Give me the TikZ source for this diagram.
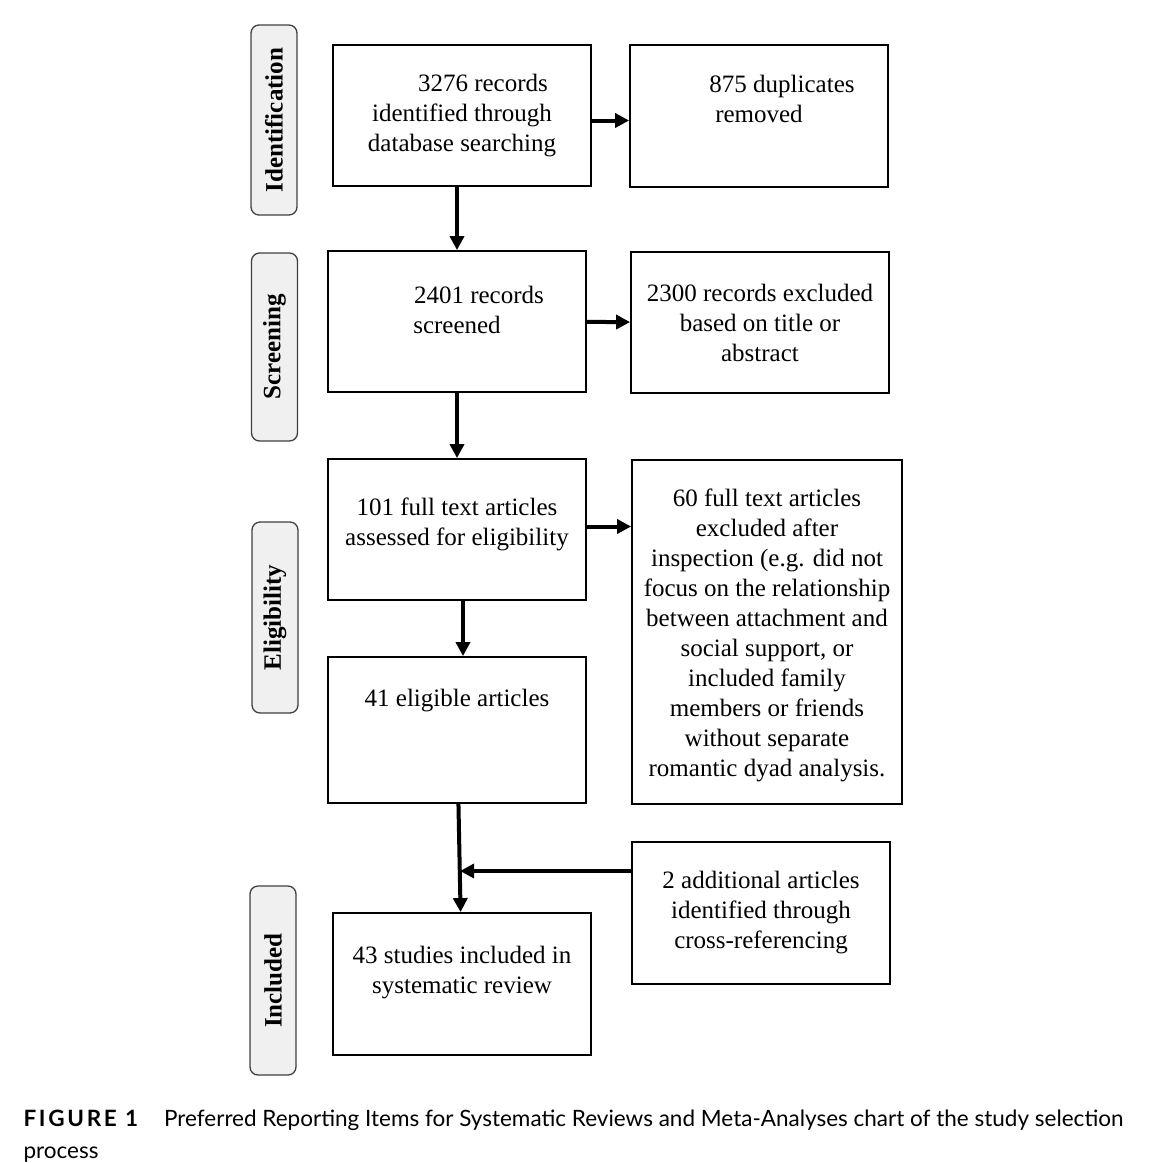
\documentclass[tikz,border=0pt]{standalone}
\usepackage{fontspec}
\setmainfont{Liberation Serif}
\newfontfamily\capfont{Lato}
\newfontfamily\capbold[LetterSpace=12]{Lato Bold}
\usetikzlibrary{arrows.meta,calc}

\tikzset{
  box/.style={draw,line width=1.8pt,align=center,font=\fontsize{25}{30}\selectfont},
  stage/.style={draw=black!75,fill=black!6,line width=1.3pt,rounded corners=8pt,rotate=90,
    minimum height=46pt,font=\fontsize{25}{30}\selectfont\bfseries},
  arr/.style={black,line width=4pt,-{Triangle[length=14pt,width=14pt]}},
}

\begin{document}
\begin{tikzpicture}[x=1pt,y=-1pt]
    \useasboundingbox (0,0) rectangle (1163,1163);

    \node[stage,minimum width=190pt] (idf) at (274,120) {Identification};
    \node[stage,minimum width=188pt] (scr) at (274.5,347) {Screening};
    \node[stage,minimum width=191pt] (elg) at (275,617.5) {Eligibility};
    \node[stage,minimum width=189pt] (inc) at (273,980.5) {Included};

    \node[box,minimum width=258pt,minimum height=141pt] (1) at (462,115.5)
      {\hspace*{42pt}3276 records\\identified through\\database searching};
    \node[box,minimum width=258pt,minimum height=142pt,text depth=34pt] (2) at (759,116)
      {\hspace*{46pt}875 duplicates\\removed};

    \node[box,minimum width=258pt,minimum height=141pt,text depth=23pt] (3) at (457,321.5)
      {\hspace*{44pt}2401 records\\screened};
    \node[box,minimum width=258pt,minimum height=141pt] (4) at (760,322.5)
      {2300 records excluded\\based on title or\\abstract};

    \node[box,minimum width=258pt,minimum height=141pt,text depth=15pt] (5) at (457,529.5)
      {101 full text articles\\assessed for eligibility};
    \node[box,minimum width=270pt,minimum height=344pt] (6) at (767,632)
      {\\[-5pt]60 full text articles\\excluded after\\inspection (e.g. did not\\focus on the relationship\\between attachment and\\social support, or\\included family\\members or friends\\without separate\\romantic dyad analysis.};
    \node[box,minimum width=258pt,minimum height=146pt,text depth=64pt] (7) at (457,730)
      {41 eligible articles};

    \node[box,minimum width=258pt,minimum height=142pt] (8) at (761,913)
      {2 additional articles\\identified through\\cross-referencing};
    \node[box,minimum width=258pt,minimum height=142pt,text depth=28pt] (9) at (462,984)
      {43 studies included in\\systematic review};

    \coordinate (join) at ($(7.south)!0.62!(9.north)$);

    \path
    ([yshift=-5pt]1.east) [arr] edge ([yshift=-5pt]1.east -| 2.west)
    (3.north |- 1.south) [arr] edge (3)
    (3) [arr] edge (4)
    (3) [arr] edge (5)
    ([yshift=3pt]5.east) [arr] edge ([yshift=3pt]5.east -| 6.west)
    ([xshift=6pt]5.south) [arr] edge ([xshift=6pt]7.north)
    (7) [arr] edge (9)
    (join -| 8.west) [arr] edge (join);

    \node[anchor=north west,align=left,font=\capfont\fontsize{22.5}{32}\selectfont] (cap) at (20,1106)
      {{\capbold FIGURE 1}\hspace{26pt}Preferred Reporting Items for Systematic Reviews and Meta-Analyses chart of the study selection\\process};
\end{tikzpicture}
\end{document}
